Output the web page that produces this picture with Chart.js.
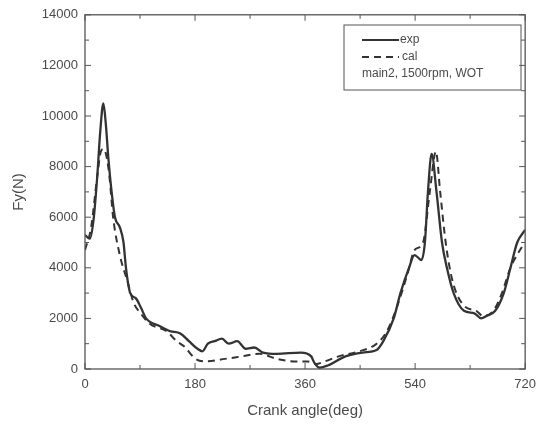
<!DOCTYPE html>
<html>
<head>
<meta charset="utf-8">
<script src="https://cdn.jsdelivr.net/npm/chart.js@4/dist/chart.umd.min.js"></script>
<style>
  html, body { margin: 0; padding: 0; background: #fff; }
  #wrap { width: 544px; height: 424px; }
</style>
</head>
<body>
<div id="wrap"><canvas id="fyChart" width="544" height="424"></canvas></div>
<script>
// data
const expAngle = [0, 8, 14, 20, 25, 30, 34, 38, 44, 49, 57, 63, 67, 74, 83, 92, 100, 122, 139, 156, 170, 184, 192, 201, 212, 224, 235, 249, 263, 277, 291, 314, 353, 370, 375, 384, 398, 426, 454, 477, 488, 505, 516, 530, 539, 545, 550, 556, 561, 567, 575, 584, 592, 603, 620, 637, 648, 657, 671, 685, 696, 707, 720];
const expForce = [5300, 5150, 5900, 7600, 9400, 10500, 9700, 8400, 6900, 6000, 5600, 5000, 4000, 3000, 2800, 2400, 2000, 1700, 1500, 1400, 1100, 800, 700, 1000, 1100, 1200, 1000, 1100, 800, 850, 650, 600, 650, 500, 250, 50, 150, 500, 650, 750, 1100, 2000, 3000, 4000, 4500, 4400, 4300, 5000, 7000, 8500, 7000, 5000, 4000, 3000, 2300, 2200, 2000, 2100, 2300, 3000, 4000, 5000, 5500];

const calAngle = [0, 10, 20, 26, 31, 36, 40, 46, 57, 69, 80, 91, 105, 133, 150, 162, 181, 198, 229, 257, 285, 314, 342, 364, 378, 392, 415, 449, 477, 494, 511, 528, 539, 553, 564, 574, 581, 590, 601, 620, 640, 651, 668, 682, 696, 719];
const calForce = [4700, 5600, 7600, 8600, 8700, 8300, 7600, 6000, 4500, 3500, 2600, 2200, 1800, 1500, 1100, 900, 400, 300, 400, 500, 600, 400, 300, 300, 200, 300, 500, 700, 1000, 1500, 2500, 3800, 4700, 5000, 7000, 8600, 7000, 5000, 3500, 2500, 2300, 2100, 2300, 3000, 4000, 5000];

const xTicks = [0, 180, 360, 540, 720];
const yTicks = [0, 2000, 4000, 6000, 8000, 10000, 12000, 14000];
const legendNote = "main2, 1500rpm, WOT";

const inkColor = "#333";
const textColor = "#4a4a4a";
const fontFamily = "'Liberation Sans', Arial, sans-serif";

function toPoints(xs, ys) {
  return xs.map((x, i) => ({ x: x, y: ys[i] }));
}

// frame, inward ticks and the boxed legend
const framePlugin = {
  id: "frame",
  afterDraw(chart) {
    const { ctx, chartArea: a, scales } = chart;
    const xs = scales.x, ys = scales.y;
    ctx.save();
    ctx.strokeStyle = "#555";
    ctx.lineWidth = 1.3;
    ctx.strokeRect(a.left, a.top, a.right - a.left, a.bottom - a.top);

    ctx.lineWidth = 1;
    for (let v = 0; v <= 720; v += 90) {
      const px = xs.getPixelForValue(v);
      const len = v % 180 === 0 ? 6 : 4;
      ctx.beginPath();
      ctx.moveTo(px, a.bottom); ctx.lineTo(px, a.bottom - len);
      ctx.moveTo(px, a.top); ctx.lineTo(px, a.top + len);
      ctx.stroke();
    }
    for (let v = 0; v <= 14000; v += 1000) {
      const py = ys.getPixelForValue(v);
      const len = v % 2000 === 0 ? 6 : 4;
      ctx.beginPath();
      ctx.moveTo(a.left, py); ctx.lineTo(a.left + len, py);
      ctx.moveTo(a.right, py); ctx.lineTo(a.right - len, py);
      ctx.stroke();
    }

    // legend box
    const bx = 344, by = 25, bw = 177, bh = 65;
    ctx.strokeStyle = "#555";
    ctx.lineWidth = 1;
    ctx.strokeRect(bx, by, bw, bh);

    const sets = chart.data.datasets;
    ctx.font = "12px " + fontFamily;
    ctx.fillStyle = textColor;
    ctx.textBaseline = "middle";
    ctx.textAlign = "left";

    ctx.strokeStyle = inkColor;
    ctx.lineWidth = 2;
    ctx.setLineDash([]);
    ctx.beginPath(); ctx.moveTo(362, 40); ctx.lineTo(399, 40); ctx.stroke();
    ctx.fillText(sets[0].label, 400, 40);

    ctx.setLineDash([7, 5]);
    ctx.beginPath(); ctx.moveTo(362, 57); ctx.lineTo(399, 57); ctx.stroke();
    ctx.setLineDash([]);
    ctx.fillText(sets[1].label, 402, 57);

    ctx.fillText(legendNote, 362, 74);
    ctx.restore();
  }
};

const ctx = document.getElementById("fyChart").getContext("2d");
new Chart(ctx, {
  type: "line",
  data: {
    datasets: [
      {
        label: "exp",
        data: toPoints(expAngle, expForce),
        borderColor: inkColor,
        borderWidth: 2.3,
        pointRadius: 0,
        cubicInterpolationMode: "monotone",
        fill: false
      },
      {
        label: "cal",
        data: toPoints(calAngle, calForce),
        borderColor: inkColor,
        borderWidth: 2,
        borderDash: [7, 5],
        pointRadius: 0,
        cubicInterpolationMode: "monotone",
        fill: false
      }
    ]
  },
  options: {
    responsive: false,
    animation: false,
    layout: { padding: { left: 6, right: 17, top: 13, bottom: 0 } },
    plugins: {
      legend: { display: false },
      tooltip: { enabled: false }
    },
    scales: {
      x: {
        type: "linear",
        min: 0,
        max: 720,
        afterBuildTicks: s => { s.ticks = xTicks.map(v => ({ value: v })); },
        afterFit: s => { s.height = 55; },
        grid: { display: false, drawTicks: false },
        border: { display: false },
        ticks: {
          padding: 8,
          color: textColor,
          font: { family: fontFamily, size: 13 },
          callback: v => String(v)
        },
        title: {
          display: true,
          text: "Crank angle(deg)",
          color: textColor,
          padding: { top: 6 },
          font: { family: fontFamily, size: 15 }
        }
      },
      y: {
        min: 0,
        max: 14000,
        afterBuildTicks: s => { s.ticks = yTicks.map(v => ({ value: v })); },
        afterFit: s => { s.width = 79; },
        grid: { display: false, drawTicks: false },
        border: { display: false },
        ticks: {
          padding: 7,
          color: textColor,
          font: { family: fontFamily, size: 13 },
          callback: v => String(v)
        },
        title: {
          display: true,
          text: "Fy(N)",
          color: textColor,
          padding: { bottom: 0 },
          font: { family: fontFamily, size: 15 }
        }
      }
    }
  },
  plugins: [framePlugin]
});
</script>
</body>
</html>
